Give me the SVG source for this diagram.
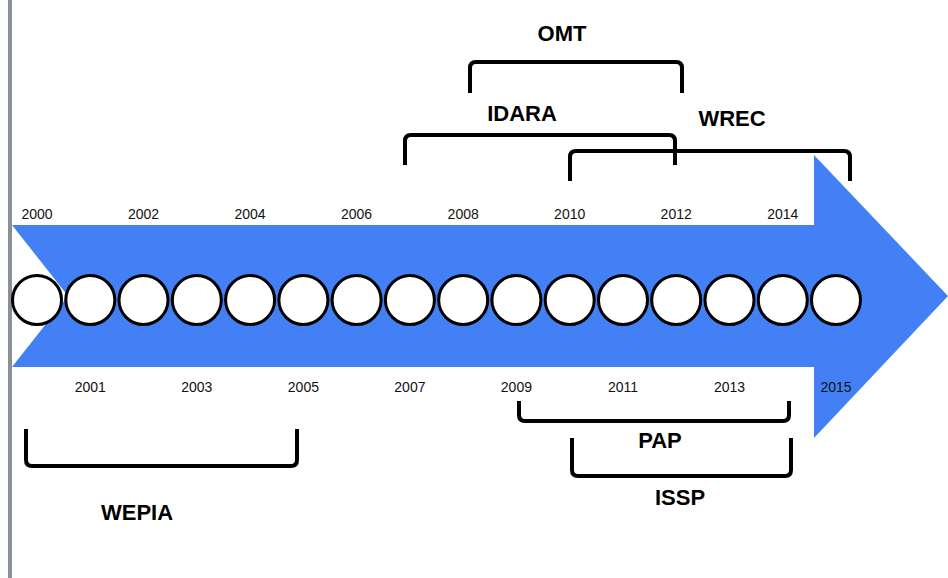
<svg xmlns="http://www.w3.org/2000/svg" width="948" height="578" viewBox="0 0 948 578">
  <style>
    .yr { font-family: "Liberation Sans", Arial, sans-serif; font-size: 14px; fill: #111; text-anchor: middle; }
    .lbl { font-family: "Liberation Sans", Arial, sans-serif; font-size: 22px; font-weight: bold; fill: #000; text-anchor: middle; }
    .br { fill: none; stroke: #000; stroke-width: 4; }
    .dot { fill: #fff; stroke: #000; stroke-width: 3; }
  </style>
  <rect width="948" height="578" fill="#fff"/>
  <rect x="8" y="0" width="4" height="578" fill="#8a9099"/>

  <!-- timeline arrow -->
  <g id="arrow">
    <polygon points="12,225 814,225 814,155 948,296 814,438 814,367 12,367 68,296" fill="#4380f6"/>
  </g>

  <!-- year markers -->
  <g id="years">
    <circle class="dot" cx="37" cy="300" r="24.5"/>
    <circle class="dot" cx="90.3" cy="300" r="24.5"/>
    <circle class="dot" cx="143.5" cy="300" r="24.5"/>
    <circle class="dot" cx="196.8" cy="300" r="24.5"/>
    <circle class="dot" cx="250.1" cy="300" r="24.5"/>
    <circle class="dot" cx="303.4" cy="300" r="24.5"/>
    <circle class="dot" cx="356.6" cy="300" r="24.5"/>
    <circle class="dot" cx="409.9" cy="300" r="24.5"/>
    <circle class="dot" cx="463.2" cy="300" r="24.5"/>
    <circle class="dot" cx="516.4" cy="300" r="24.5"/>
    <circle class="dot" cx="569.7" cy="300" r="24.5"/>
    <circle class="dot" cx="623" cy="300" r="24.5"/>
    <circle class="dot" cx="676.2" cy="300" r="24.5"/>
    <circle class="dot" cx="729.5" cy="300" r="24.5"/>
    <circle class="dot" cx="782.8" cy="300" r="24.5"/>
    <circle class="dot" cx="836" cy="300" r="24.5"/>

    <text class="yr" x="37" y="219">2000</text>
    <text class="yr" x="143.5" y="219">2002</text>
    <text class="yr" x="250.1" y="219">2004</text>
    <text class="yr" x="356.6" y="219">2006</text>
    <text class="yr" x="463.2" y="219">2008</text>
    <text class="yr" x="569.7" y="219">2010</text>
    <text class="yr" x="676.2" y="219">2012</text>
    <text class="yr" x="782.8" y="219">2014</text>

    <text class="yr" x="90.3" y="392">2001</text>
    <text class="yr" x="196.8" y="392">2003</text>
    <text class="yr" x="303.4" y="392">2005</text>
    <text class="yr" x="409.9" y="392">2007</text>
    <text class="yr" x="516.4" y="392">2009</text>
    <text class="yr" x="623" y="392">2011</text>
    <text class="yr" x="729.5" y="392">2013</text>
    <text class="yr" x="836" y="392">2015</text>
  </g>

  <!-- programme spans -->
  <g id="omt">
    <path class="br" d="M470,93 V68 Q470,62 476,62 H676 Q682,62 682,68 V93"/>
    <text class="lbl" x="562" y="41">OMT</text>
  </g>
  <g id="idara">
    <path class="br" d="M405,165 V141 Q405,135 411,135 H669 Q675,135 675,141 V165"/>
    <text class="lbl" x="522" y="121">IDARA</text>
  </g>
  <g id="wrec">
    <path class="br" d="M570,181 V157 Q570,151 576,151 H844 Q850,151 850,157 V181"/>
    <text class="lbl" x="732" y="126">WREC</text>
  </g>
  <g id="wepia">
    <path class="br" d="M26,429 V460 Q26,466 32,466 H291 Q297,466 297,460 V429"/>
    <text class="lbl" x="137" y="520">WEPIA</text>
  </g>
  <g id="pap">
    <path class="br" d="M519,401 V415 Q519,421 525,421 H783 Q789,421 789,415 V401"/>
    <text class="lbl" x="660" y="448">PAP</text>
  </g>
  <g id="issp">
    <path class="br" d="M572,438 V470 Q572,476 578,476 H785 Q791,476 791,470 V438"/>
    <text class="lbl" x="680" y="505">ISSP</text>
  </g>
</svg>
